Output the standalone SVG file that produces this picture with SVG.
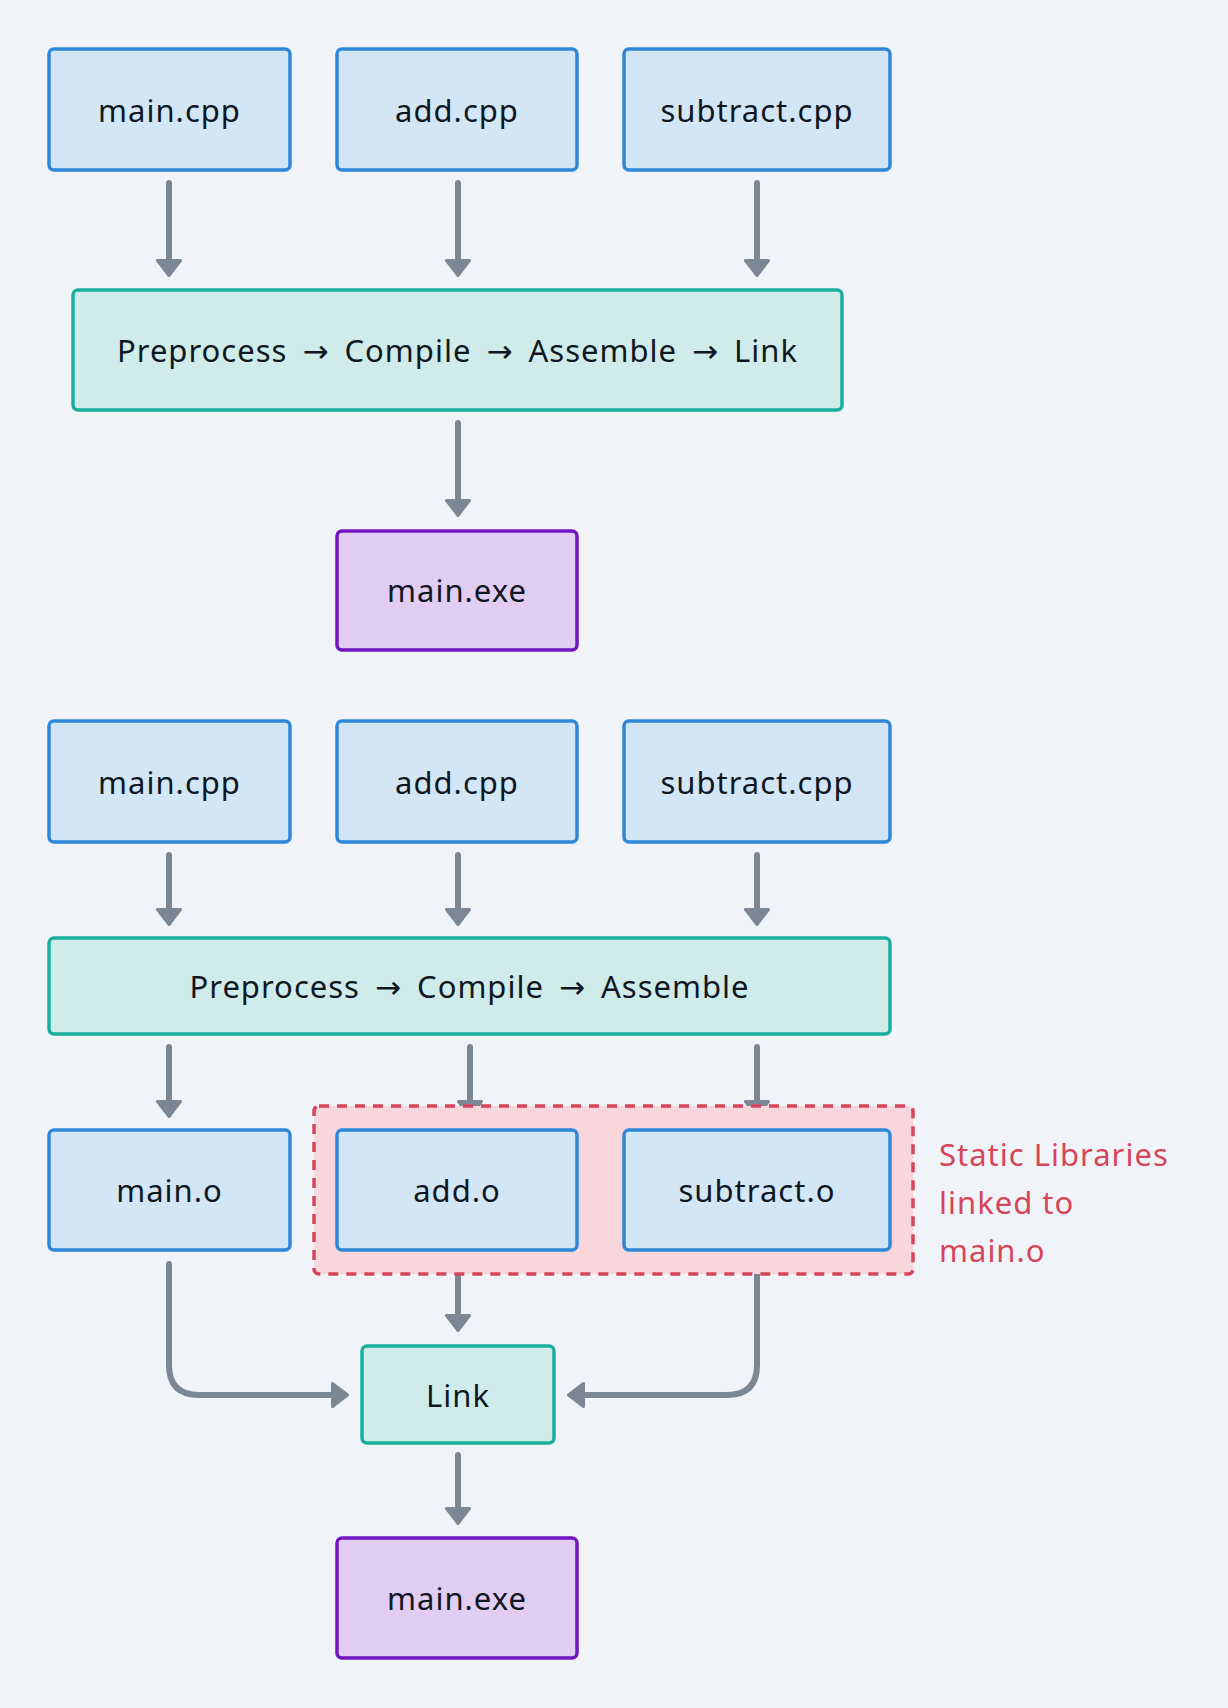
<svg xmlns="http://www.w3.org/2000/svg" width="1228" height="1708" viewBox="0 0 1228 1708">
<defs>
<style>
.bg{fill:#f0f4f8}
.src rect{fill:#d3e6f6;stroke:#2e88d8;stroke-width:3.5}
.proc rect{fill:#cfecea;stroke:#1aae9e;stroke-width:3.5}
.exe rect{fill:#e1cdf2;stroke:#7214c2;stroke-width:3.5}
.grp rect{fill:#f8d7dc;stroke:#d6455a;stroke-width:3.5;stroke-dasharray:10 8}
text{font-family:"Noto Sans","DejaVu Sans",sans-serif;font-size:31px;letter-spacing:1px;fill:#0f1722;text-anchor:middle}
.proc text{word-spacing:6px}
.note{fill:#d6455a;text-anchor:start}
.conn path{fill:none;stroke:#7b8794;stroke-width:6;stroke-linecap:round;marker-end:url(#ah)}
</style>
<marker id="ah" viewBox="0 0 18 26" refX="6" refY="13" markerWidth="18" markerHeight="26" markerUnits="userSpaceOnUse" orient="auto">
<path d="M1.5,1.5 L16.5,13 L1.5,24.5 Z" fill="#7b8794" stroke="#7b8794" stroke-width="3" stroke-linejoin="round"/>
</marker>
</defs>
<rect class="bg" x="0" y="0" width="1228" height="1708"/>
<g id="connectors" class="conn">
<path d="M169,183 V265"/>
<path d="M458,183 V265"/>
<path d="M757,183 V265"/>
<path d="M458,423 V505"/>
<path d="M169,855 V914"/>
<path d="M458,855 V914"/>
<path d="M757,855 V914"/>
<path d="M169,1047 V1106"/>
<path d="M470,1047 V1106"/>
<path d="M757,1047 V1106"/>
<path d="M458,1274 V1320"/>
<path d="M169,1264 V1365 Q169,1395 199,1395 H337"/>
<path d="M757,1274 V1365 Q757,1395 727,1395 H579"/>
<path d="M458,1455 V1513"/>
</g>
<g id="top-main-cpp" class="src"><rect x="49" y="49" width="241" height="121" rx="5"/><text x="169.5" y="122">main.cpp</text></g>
<g id="top-add-cpp" class="src"><rect x="337" y="49" width="240" height="121" rx="5"/><text x="457" y="122">add.cpp</text></g>
<g id="top-subtract-cpp" class="src"><rect x="624" y="49" width="266" height="121" rx="5"/><text x="757" y="122">subtract.cpp</text></g>
<g id="top-process" class="proc"><rect x="73" y="290" width="769" height="120" rx="5"/><text x="457.5" y="362">Preprocess → Compile → Assemble → Link</text></g>
<g id="top-main-exe" class="exe"><rect x="337" y="531" width="240" height="119" rx="5"/><text x="457" y="602">main.exe</text></g>
<g id="bot-main-cpp" class="src"><rect x="49" y="721" width="241" height="121" rx="5"/><text x="169.5" y="794">main.cpp</text></g>
<g id="bot-add-cpp" class="src"><rect x="337" y="721" width="240" height="121" rx="5"/><text x="457" y="794">add.cpp</text></g>
<g id="bot-subtract-cpp" class="src"><rect x="624" y="721" width="266" height="121" rx="5"/><text x="757" y="794">subtract.cpp</text></g>
<g id="bot-process" class="proc"><rect x="49" y="938" width="841" height="96" rx="5"/><text x="469.5" y="998">Preprocess → Compile → Assemble</text></g>
<g id="static-libraries" class="grp"><rect x="314" y="1106" width="599" height="168" rx="5"/><text class="note" x="939" y="1166">Static Libraries</text><text class="note" x="939" y="1214">linked to</text><text class="note" x="939" y="1262">main.o</text></g>
<g id="main-o" class="src"><rect x="49" y="1130" width="241" height="120" rx="5"/><text x="169.5" y="1202">main.o</text></g>
<g id="add-o" class="src"><rect x="337" y="1130" width="240" height="120" rx="5"/><text x="457" y="1202">add.o</text></g>
<g id="subtract-o" class="src"><rect x="624" y="1130" width="266" height="120" rx="5"/><text x="757" y="1202">subtract.o</text></g>
<g id="link" class="proc"><rect x="362" y="1346" width="192" height="97" rx="5"/><text x="458" y="1407">Link</text></g>
<g id="bot-main-exe" class="exe"><rect x="337" y="1538" width="240" height="120" rx="5"/><text x="457" y="1610">main.exe</text></g>
</svg>
